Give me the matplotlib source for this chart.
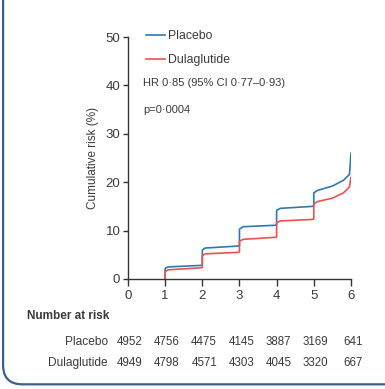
import numpy as np
import matplotlib
matplotlib.use("Agg")
import matplotlib.pyplot as plt
from matplotlib.patches import FancyBboxPatch
from matplotlib.transforms import blended_transform_factory

plt.rcParams['font.family'] = ['Liberation Sans', 'DejaVu Sans']

# data (jumps drawn as vertical pairs)
years = [0, 1, 2, 3, 4, 5, 6]
placebo_t = [1.0, 1.0, 1.08, 1.95, 2.0, 2.0, 2.08, 2.95, 3.0, 3.0, 3.1, 3.95, 4.0, 4.0, 4.1,
             4.95, 5.0, 5.0, 5.1, 5.5, 5.8, 5.96, 5.98, 6.0]
placebo_y = [0, 2.2, 2.5, 2.8, 2.9, 6.0, 6.4, 6.8, 6.9, 10.3, 10.8, 11.1, 11.2, 14.2, 14.6,
             15.0, 15.1, 17.8, 18.3, 19.2, 20.4, 21.6, 23.5, 26.0]
dula_t = [1.0, 1.0, 1.08, 1.95, 2.0, 2.0, 2.08, 2.95, 3.0, 3.0, 3.1, 3.95, 4.0, 4.0, 4.1,
          4.95, 5.0, 5.0, 5.1, 5.5, 5.8, 5.96, 5.98, 6.0]
dula_y = [0, 1.5, 1.9, 2.3, 2.4, 4.8, 5.2, 5.5, 5.6, 7.8, 8.2, 8.6, 8.7, 11.6, 12.0,
          12.3, 12.4, 15.5, 16.0, 16.7, 17.8, 19.0, 20.0, 21.0]
risk_placebo = [4952, 4756, 4475, 4145, 3887, 3169, 641]
risk_dula = [4949, 4798, 4571, 4303, 4045, 3320, 667]

blue = '#2e78b4'
red = '#e8544c'
txt = '#3a3a3a'

fig = plt.figure(figsize=(3.85, 3.89), dpi=100)

# panel border (rounded, left + bottom visible)
border = FancyBboxPatch((0.008, 0.012), 1.2, 1.2, boxstyle="round,pad=0,rounding_size=0.05",
                        transform=fig.transFigure, fill=False, edgecolor='#3b5d8f', linewidth=1.6)
fig.patches.append(border)

ax = fig.add_axes([0.3325, 0.2828, 0.579, 0.622])
ax.plot(placebo_t, placebo_y, color=blue, lw=1.2, label='Placebo')
ax.plot(dula_t, dula_y, color=red, lw=1.2, label='Dulaglutide')
ax.set_xlim(0, 6)
ax.set_ylim(0, 50)
ax.set_xticks(years)
ax.set_yticks([0, 10, 20, 30, 40, 50])
for s in ['top', 'right']:
    ax.spines[s].set_visible(False)
for s in ['left', 'bottom']:
    ax.spines[s].set_color('#333333')
    ax.spines[s].set_linewidth(1.0)
ax.tick_params(axis='x', direction='out', length=5, width=1, colors='#333333',
               labelsize=9.5, labelcolor=txt, pad=3)
ax.tick_params(axis='y', direction='out', length=3.5, width=1, colors='#333333',
               labelsize=9.5, labelcolor=txt, pad=2)
ax.set_ylabel('Cumulative risk (%)', fontsize=8.5, color=txt, labelpad=5)
ax.patch.set_alpha(0)

ax.legend(loc='upper left', bbox_to_anchor=(0.03, 1.075), frameon=False, fontsize=8.8,
          handlelength=1.6, handletextpad=0.25, labelspacing=1.0, labelcolor=txt)
ax.text(0.4, 40.5, 'HR 0·85 (95% CI 0·77–0·93)', fontsize=8, color=txt, va='center')
ax.text(0.4, 34.9, 'p=0·0004', fontsize=8, color=txt, va='center')

# number at risk table
fig.text(0.07, 0.188, 'Number at risk', fontsize=8.5, fontweight='bold', color=txt, va='center')
fig.text(0.2805, 0.121, 'Placebo', fontsize=8.6, color=txt, ha='right', va='center')
fig.text(0.2805, 0.067, 'Dulaglutide', fontsize=8.6, color=txt, ha='right', va='center')
tr = blended_transform_factory(ax.transData, fig.transFigure)
for x, a, b in zip(years, risk_placebo, risk_dula):
    ax.text(x + 0.05, 0.121, str(a), transform=tr, fontsize=8.3, color=txt, ha='center', va='center', clip_on=False)
    ax.text(x + 0.05, 0.067, str(b), transform=tr, fontsize=8.3, color=txt, ha='center', va='center', clip_on=False)

fig.savefig('out.png', dpi=100)
